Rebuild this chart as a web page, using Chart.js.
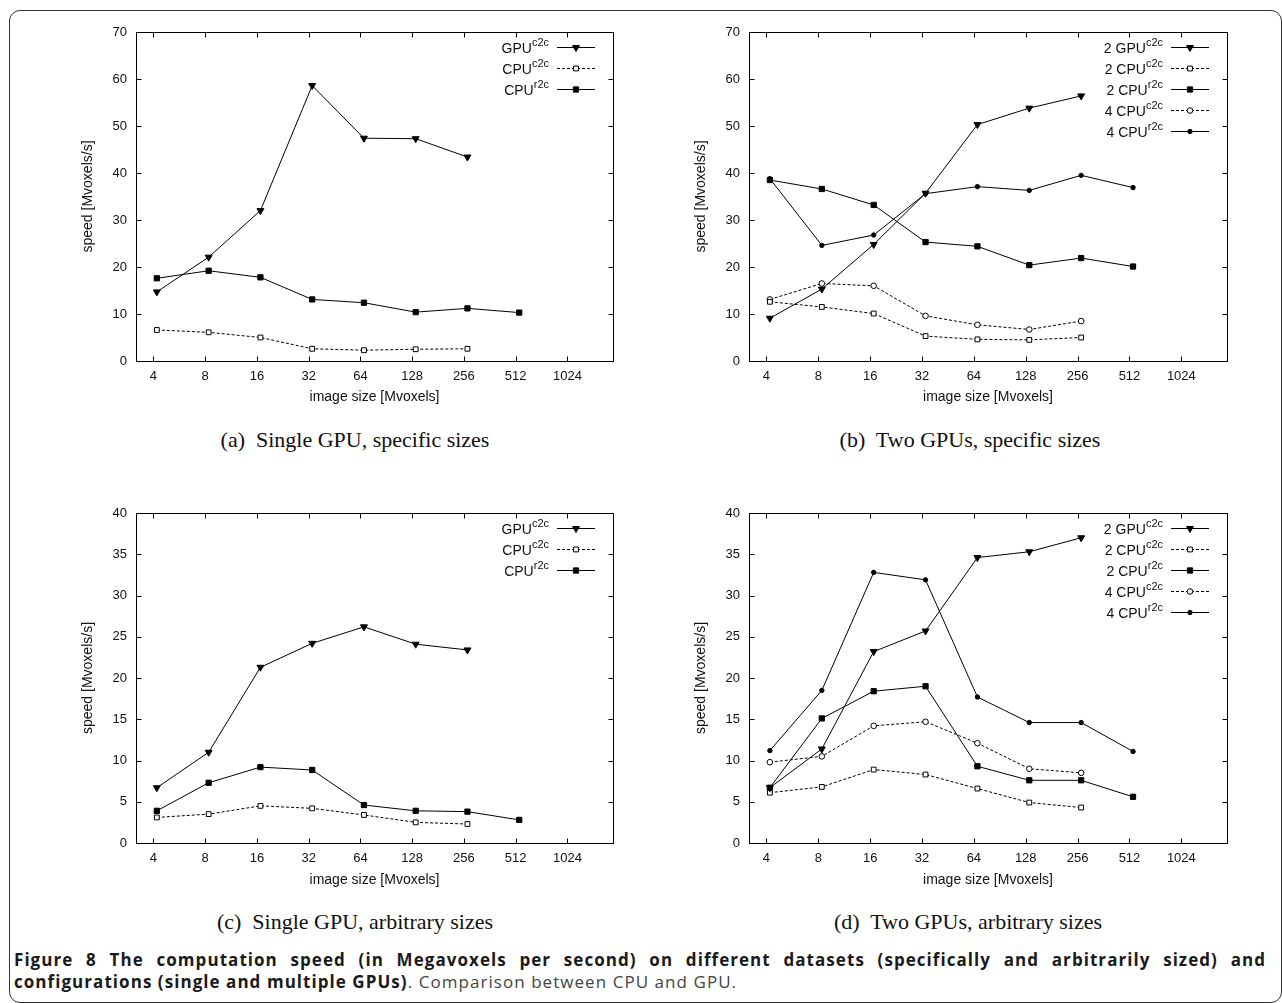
<!DOCTYPE html>
<html><head><meta charset="utf-8">
<script src="https://cdn.jsdelivr.net/npm/chart.js@4.4.1/dist/chart.umd.min.js"></script>
<style>
html,body{margin:0;padding:0;background:#fff;}
body{width:1282px;height:1003px;position:relative;overflow:hidden;}
.frame{position:absolute;left:9px;top:10px;width:1273px;height:993px;border:1.5px solid #333;border-radius:11px;box-sizing:border-box;}
canvas{position:absolute;}
.sub{position:absolute;font-family:"Liberation Serif","Times New Roman",serif;font-size:22px;color:#111;white-space:nowrap;transform:translate(-50%,-50%);}
.cap{position:absolute;left:14px;top:949px;width:1252px;font-family:"Open Sans",sans-serif;font-size:17px;line-height:22px;color:#1a1a1a;letter-spacing:1.05px;}
.cap .l1{font-weight:bold;text-align:justify;text-align-last:justify;white-space:nowrap;}
.cap .gray{color:#444;font-weight:normal;}
</style>
</head><body>
<div class="frame"></div>
<canvas id="cA" width="641" height="420" style="left:0;top:0"></canvas>
<canvas id="cB" width="641" height="420" style="left:641px;top:0"></canvas>
<canvas id="cC" width="641" height="420" style="left:0;top:481px"></canvas>
<canvas id="cD" width="641" height="420" style="left:641px;top:481px"></canvas>
<div class="sub" style="left:355px;top:440px">(a)&nbsp; Single GPU, specific sizes</div>
<div class="sub" style="left:970px;top:440px">(b)&nbsp; Two GPUs, specific sizes</div>
<div class="sub" style="left:355px;top:922px">(c)&nbsp; Single GPU, arbitrary sizes</div>
<div class="sub" style="left:968px;top:922px">(d)&nbsp; Two GPUs, arbitrary sizes</div>
<div class="cap"><div class="l1">Figure 8 The computation speed (in Megavoxels per second) on different datasets (specifically and arbitrarily sized) and</div><div><b>configurations (single and multiple GPUs)</b><span class="gray">. Comparison between CPU and GPU.</span></div></div>
<script>
// ---- data ----
const xPositions = [4.19, 8.39, 16.78, 33.55, 67.11, 134.2, 268.4, 536.9]; // image sizes (Mvoxels)
const xTickValues = [4, 8, 16, 32, 64, 128, 256, 512, 1024];
const yTicksSpecific = [0, 10, 20, 30, 40, 50, 60, 70];
const yTicksArbitrary = [0, 5, 10, 15, 20, 25, 30, 35, 40];

// (a) single GPU, specific sizes
const a_gpu_c2c = [14.7, 22.1, 32.0, 58.6, 47.4, 47.3, 43.4];
const a_cpu_c2c = [6.6, 6.1, 5.0, 2.6, 2.3, 2.5, 2.6];
const a_cpu_r2c = [17.6, 19.2, 17.8, 13.1, 12.4, 10.4, 11.2, 10.3];
// (b) two GPUs, specific sizes
const b_gpu2_c2c = [9.1, 15.3, 24.8, 35.7, 50.3, 53.8, 56.4];
const b_cpu2_c2c = [12.6, 11.5, 10.1, 5.3, 4.6, 4.5, 5.0];
const b_cpu2_r2c = [38.5, 36.6, 33.2, 25.3, 24.4, 20.4, 21.9, 20.1];
const b_cpu4_c2c = [13.1, 16.5, 16.0, 9.6, 7.7, 6.7, 8.5];
const b_cpu4_r2c = [38.8, 24.6, 26.8, 35.6, 37.1, 36.3, 39.5, 36.9];
// (c) single GPU, arbitrary sizes
const c_gpu_c2c = [6.7, 11.0, 21.3, 24.2, 26.2, 24.1, 23.4];
const c_cpu_c2c = [3.1, 3.5, 4.5, 4.2, 3.4, 2.5, 2.3];
const c_cpu_r2c = [3.9, 7.3, 9.2, 8.85, 4.6, 3.9, 3.8, 2.8];
// (d) two GPUs, arbitrary sizes
const d_gpu2_c2c = [6.7, 11.4, 23.2, 25.7, 34.6, 35.3, 37.0];
const d_cpu2_c2c = [6.1, 6.8, 8.9, 8.3, 6.6, 4.9, 4.3];
const d_cpu2_r2c = [6.7, 15.1, 18.4, 19.0, 9.3, 7.6, 7.6, 5.6];
const d_cpu4_c2c = [9.8, 10.5, 14.2, 14.7, 12.1, 9.0, 8.5];
const d_cpu4_r2c = [11.2, 18.5, 32.8, 31.9, 17.7, 14.6, 14.6, 11.1];

const singleLabels = [['GPU', 'c2c'], ['CPU', 'c2c'], ['CPU', 'r2c']];
const dualLabels = [['2 GPU', 'c2c'], ['2 CPU', 'c2c'], ['2 CPU', 'r2c'], ['4 CPU', 'c2c'], ['4 CPU', 'r2c']];

// ---- styles ----
const F = '"Liberation Sans", Arial, Helvetica, sans-serif';
const INK = '#111';
const STY = {
  gpu:   {pointStyle: 'triangle', pointRadius: 4, pointRotation: 180, fill: true, dash: []},
  c2c:   {pointStyle: 'rect', pointRadius: 3.4, pointRotation: 0, fill: false, dash: [3, 2]},
  r2c:   {pointStyle: 'rect', pointRadius: 3.7, pointRotation: 0, fill: true, dash: []},
  c2c4:  {pointStyle: 'circle', pointRadius: 2.8, pointRotation: 0, fill: false, dash: [3, 2]},
  r2c4:  {pointStyle: 'circle', pointRadius: 2.2, pointRotation: 0, fill: true, dash: []}
};

function makeDataset(values, label, styleKey) {
  const s = STY[styleKey];
  return {
    data: values.map((v, i) => ({x: xPositions[i], y: v})),
    legendLabel: label,
    styleKey: styleKey,
    borderColor: '#000', borderWidth: 1, borderDash: s.dash,
    pointStyle: s.pointStyle, pointRadius: s.pointRadius, pointRotation: s.pointRotation,
    pointBorderColor: '#000', pointBorderWidth: 1,
    pointBackgroundColor: s.fill ? '#000' : '#fff',
    tension: 0, fill: false
  };
}

function drawMarker(ctx, s, x, y) {
  const r = s.pointRadius;
  ctx.beginPath();
  if (s.pointStyle === 'triangle') {
    let rad = s.pointRotation * Math.PI / 180;
    ctx.moveTo(x + Math.sin(rad) * r, y - Math.cos(rad) * r);
    rad += 2 * Math.PI / 3;
    ctx.lineTo(x + Math.sin(rad) * r, y - Math.cos(rad) * r);
    rad += 2 * Math.PI / 3;
    ctx.lineTo(x + Math.sin(rad) * r, y - Math.cos(rad) * r);
    ctx.closePath();
  } else if (s.pointStyle === 'rect') {
    const h = r * Math.SQRT1_2;
    ctx.rect(x - h, y - h, 2 * h, 2 * h);
  } else {
    ctx.arc(x, y, r, 0, Math.PI * 2);
  }
  ctx.fillStyle = s.fill ? '#000' : '#fff';
  ctx.fill();
  ctx.setLineDash([]);
  ctx.lineWidth = 1;
  ctx.strokeStyle = '#000';
  ctx.stroke();
}

const framePlugin = {
  id: 'gnuFrame',
  afterDraw(chart) {
    const ctx = chart.ctx;
    const {left, top, right, bottom} = chart.chartArea;
    const L = Math.round(left) + 0.5, T = Math.round(top) + 0.5, R = Math.round(right) + 0.5, B = Math.round(bottom) + 0.5;
    ctx.save();
    ctx.strokeStyle = '#000';
    ctx.lineWidth = 1;
    ctx.setLineDash([]);
    ctx.strokeRect(L, T, R - L, B - T);
    ctx.beginPath();
    const xs = chart.scales.x, ys = chart.scales.y;
    xs.ticks.forEach(t => {
      const px = Math.round(xs.getPixelForValue(t.value)) + 0.5;
      ctx.moveTo(px, B); ctx.lineTo(px, B - 5);
      ctx.moveTo(px, T); ctx.lineTo(px, T + 5);
    });
    ys.ticks.forEach(t => {
      const py = Math.round(ys.getPixelForValue(t.value)) + 0.5;
      ctx.moveTo(L, py); ctx.lineTo(L + 5, py);
      ctx.moveTo(R, py); ctx.lineTo(R - 5, py);
    });
    ctx.stroke();

    // legend (gnuplot style: text right-aligned, sample to the right)
    chart.data.datasets.forEach((ds, i) => {
      const s = STY[ds.styleKey];
      const y = Math.round(top) + 15 + i * 21 + 0.5;
      const xr = right - 64;
      ctx.font = '11px ' + F;
      const supW = ctx.measureText(ds.legendLabel[1]).width;
      ctx.fillStyle = INK;
      ctx.textAlign = 'right';
      ctx.textBaseline = 'alphabetic';
      ctx.fillText(ds.legendLabel[1], xr, y - 2);
      ctx.font = '14px ' + F;
      ctx.fillText(ds.legendLabel[0], xr - supW, y + 5);
      ctx.beginPath();
      ctx.setLineDash(s.dash);
      ctx.lineWidth = 1;
      ctx.strokeStyle = '#000';
      ctx.moveTo(right - 56, y); ctx.lineTo(right - 18, y);
      ctx.stroke();
      drawMarker(ctx, s, right - 37, y);
    });
    ctx.restore();
  }
};

function makeChart(id, L, datasets, yTicks) {
  const W = 641, H = 420;
  const yMax = yTicks[yTicks.length - 1];
  new Chart(document.getElementById(id), {
    type: 'line',
    data: {datasets: datasets},
    options: {
      responsive: false, animation: false, devicePixelRatio: 1,
      layout: {padding: {left: 0, top: L.top - L.cy, right: L.cx + W - L.right, bottom: 0}},
      plugins: {legend: {display: false}, tooltip: {enabled: false}},
      elements: {line: {tension: 0}},
      scales: {
        x: {
          type: 'logarithmic', min: 3.17, max: 1885,
          afterBuildTicks: s => { s.ticks = xTickValues.map(v => ({value: v})); },
          afterFit: s => { s.height = L.cy + H - L.bottom; },
          grid: {display: false, drawTicks: false}, border: {display: false},
          ticks: {autoSkip: false, maxRotation: 0, minRotation: 0, padding: 8, color: INK,
                  font: {family: F, size: 13}, callback: v => String(v)},
          title: {display: true, text: 'image size [Mvoxels]', color: INK,
                  font: {family: F, size: 14}, padding: {top: 0, bottom: L.cy + H - L.xTitleY - 8.4}}
        },
        y: {
          type: 'linear', min: 0, max: yMax,
          afterBuildTicks: s => { s.ticks = yTicks.map(v => ({value: v})); },
          afterFit: s => { s.width = L.left - L.cx; },
          grid: {display: false, drawTicks: false}, border: {display: false},
          ticks: {padding: 9, color: INK, font: {family: F, size: 13}},
          title: {display: true, text: 'speed [Mvoxels/s]', color: INK,
                  font: {family: F, size: 14}, padding: {top: L.yTitleX - L.cx - 8.4, bottom: 0}}
        }
      }
    },
    plugins: [framePlugin]
  });
}

makeChart('cA', {cx: 0, cy: 0, left: 136, right: 613, top: 32, bottom: 361, yTitleX: 88, xTitleY: 397}, [
  makeDataset(a_gpu_c2c, singleLabels[0], 'gpu'),
  makeDataset(a_cpu_c2c, singleLabels[1], 'c2c'),
  makeDataset(a_cpu_r2c, singleLabels[2], 'r2c')
], yTicksSpecific);

makeChart('cB', {cx: 641, cy: 0, left: 749, right: 1227, top: 32, bottom: 361, yTitleX: 701, xTitleY: 397}, [
  makeDataset(b_gpu2_c2c, dualLabels[0], 'gpu'),
  makeDataset(b_cpu2_c2c, dualLabels[1], 'c2c'),
  makeDataset(b_cpu2_r2c, dualLabels[2], 'r2c'),
  makeDataset(b_cpu4_c2c, dualLabels[3], 'c2c4'),
  makeDataset(b_cpu4_r2c, dualLabels[4], 'r2c4')
], yTicksSpecific);

makeChart('cC', {cx: 0, cy: 481, left: 136, right: 613, top: 513, bottom: 843, yTitleX: 88, xTitleY: 880}, [
  makeDataset(c_gpu_c2c, singleLabels[0], 'gpu'),
  makeDataset(c_cpu_c2c, singleLabels[1], 'c2c'),
  makeDataset(c_cpu_r2c, singleLabels[2], 'r2c')
], yTicksArbitrary);

makeChart('cD', {cx: 641, cy: 481, left: 749, right: 1227, top: 513, bottom: 843, yTitleX: 701, xTitleY: 880}, [
  makeDataset(d_gpu2_c2c, dualLabels[0], 'gpu'),
  makeDataset(d_cpu2_c2c, dualLabels[1], 'c2c'),
  makeDataset(d_cpu2_r2c, dualLabels[2], 'r2c'),
  makeDataset(d_cpu4_c2c, dualLabels[3], 'c2c4'),
  makeDataset(d_cpu4_r2c, dualLabels[4], 'r2c4')
], yTicksArbitrary);
</script>
</body></html>
